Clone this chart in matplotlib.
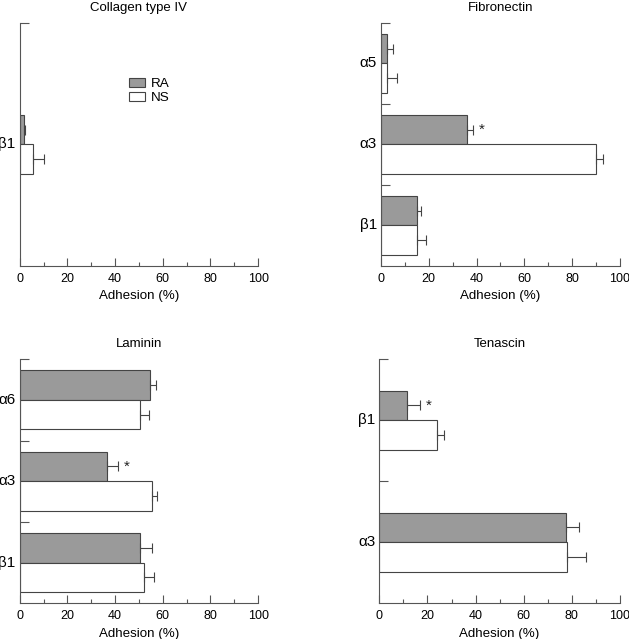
import matplotlib
matplotlib.use("Agg")
import matplotlib.pyplot as plt
from matplotlib.ticker import MultipleLocator
from matplotlib.patches import Patch

plt.rcParams['font.family'] = ['Liberation Sans', 'DejaVu Sans']

# values (% adhesion), categories listed top to bottom
collagen_cats = ["β1"]
collagen_ra = [2.0]
collagen_ra_err = [0.3]
collagen_ns = [5.7]
collagen_ns_err = [4.3]

fibro_cats = ["α5", "α3", "β1"]
fibro_ra = [2.4, 36.0, 14.9]
fibro_ra_err = [2.8, 2.4, 1.7]
fibro_ns = [2.4, 90.1, 14.9]
fibro_ns_err = [4.4, 2.8, 3.9]
fibro_star = [False, True, False]

lam_cats = ["α6", "α3", "β1"]
lam_ra = [54.5, 36.7, 50.3]
lam_ra_err = [2.6, 4.6, 5.4]
lam_ns = [50.3, 55.3, 52.0]
lam_ns_err = [4.0, 2.5, 4.4]
lam_star = [False, True, False]

ten_cats = ["β1", "α3"]
ten_ra = [11.4, 77.4]
ten_ra_err = [5.5, 5.7]
ten_ns = [24.1, 78.1]
ten_ns_err = [2.8, 7.6]
ten_star = [True, False]

GRAY = "#9a9a9a"
EDGE = "#444444"
SPINE = "#555555"
H = 0.364   # bar height in slot units (3 slots per panel)


def panel(rect, title, cats, centers, bounds, ra, ra_err, ns, ns_err, star=None):
    ax = fig.add_axes(rect)
    for i in range(len(cats)):
        c = centers[i]
        ax.barh(c + H / 2, ra[i], height=H, color=GRAY, edgecolor=EDGE, linewidth=0.8)
        ax.barh(c - H / 2, ns[i], height=H, color="white", edgecolor=EDGE, linewidth=0.8)
        ax.errorbar(ra[i], c + H / 2, xerr=[[0], [ra_err[i]]], fmt="none",
                    ecolor=EDGE, elinewidth=0.8, capsize=3.5, capthick=0.8)
        ax.errorbar(ns[i], c - H / 2, xerr=[[0], [ns_err[i]]], fmt="none",
                    ecolor=EDGE, elinewidth=0.8, capsize=3.5, capthick=0.8)
        if star is not None and star[i]:
            ax.text(ra[i] + ra_err[i] + 2.5, c + H / 2, "*", fontsize=11,
                    ha="left", va="center", color="#222222")
    ax.set_xlim(0, 100)
    ax.set_ylim(0, 3)
    ax.xaxis.set_major_locator(MultipleLocator(20))
    ax.xaxis.set_minor_locator(MultipleLocator(10))
    ax.tick_params(axis="x", which="major", direction="in", length=5.8, width=0.8,
                   color=SPINE, labelsize=9, pad=5)
    ax.tick_params(axis="x", which="minor", direction="in", length=3, width=0.8, color=SPINE)
    ax.set_yticks(bounds)
    ax.set_yticklabels([""] * len(bounds))
    ax.tick_params(axis="y", direction="in", length=6.5, width=0.8, color=SPINE)
    for i, c in enumerate(centers):
        ax.text(-0.017, c, cats[i], transform=ax.get_yaxis_transform(),
                ha="right", va="center", fontsize=11)
    for s in ["top", "right"]:
        ax.spines[s].set_visible(False)
    for s in ["left", "bottom"]:
        ax.spines[s].set_color(SPINE)
        ax.spines[s].set_linewidth(0.8)
    ax.set_xlabel("Adhesion (%)", fontsize=9.6, labelpad=4)
    ax.set_title(title, fontsize=9.5, pad=9)
    return ax


fig = plt.figure(figsize=(6.29, 6.39), dpi=100)

ax1 = panel([0.0313, 0.584, 0.379, 0.380], "Collagen type IV", collagen_cats, [1.5], [3.0],
            collagen_ra, collagen_ra_err, collagen_ns, collagen_ns_err)
ax1.legend(handles=[Patch(facecolor=GRAY, edgecolor=EDGE, linewidth=0.8, label="RA"),
                    Patch(facecolor="white", edgecolor=EDGE, linewidth=0.8, label="NS")],
           loc="upper left", bbox_to_anchor=(0.46, 0.775), frameon=False, fontsize=9.7,
           handlelength=1.15, handleheight=0.68, handletextpad=0.45, labelspacing=0.15,
           borderaxespad=0, borderpad=0)

panel([0.6057, 0.584, 0.380, 0.380], "Fibronectin", fibro_cats, [2.5, 1.5, 0.5], [1.0, 2.0, 3.0],
      fibro_ra, fibro_ra_err, fibro_ns, fibro_ns_err, fibro_star)

panel([0.0313, 0.0559, 0.379, 0.382], "Laminin", lam_cats, [2.5, 1.5, 0.5], [1.0, 2.0, 3.0],
      lam_ra, lam_ra_err, lam_ns, lam_ns_err, lam_star)

panel([0.603, 0.0559, 0.3827, 0.382], "Tenascin", ten_cats, [2.25, 0.75], [1.5, 3.0],
      ten_ra, ten_ra_err, ten_ns, ten_ns_err, ten_star)

fig.savefig("out.png", dpi=100)
